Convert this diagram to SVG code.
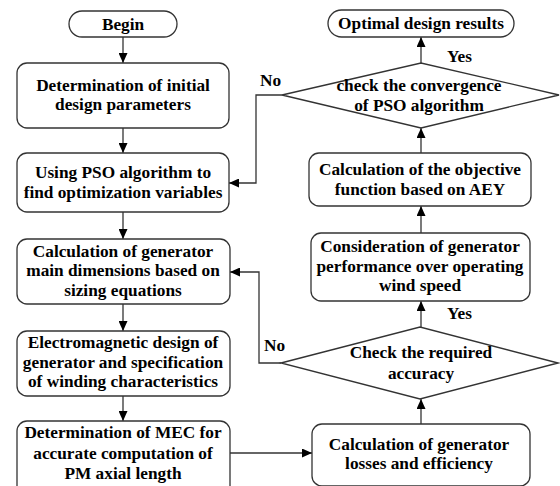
<svg xmlns="http://www.w3.org/2000/svg" width="560" height="486" viewBox="0 0 560 486">
<defs>
<marker id="ah" viewBox="0 0 10 10" refX="10" refY="5" markerWidth="10" markerHeight="9" markerUnits="userSpaceOnUse" orient="auto" preserveAspectRatio="none">
<path d="M0,0 L10,5 L0,10 Z" fill="#000"/>
</marker>
<style>
.box{fill:#fff;stroke:#333;stroke-width:1.3}
.t{font-family:"Liberation Serif","Times New Roman",serif;font-weight:bold;font-size:17.3px;fill:#000;text-anchor:middle}
.l{font-family:"Liberation Serif","Times New Roman",serif;font-weight:bold;font-size:17.3px;fill:#000}
.c{fill:none;stroke:#333;stroke-width:1.3;marker-end:url(#ah)}
</style>
</defs>
<rect width="560" height="486" fill="#fff"/>
<g id="connectors">
<path class="c" d="M123,37 V63"/>
<path class="c" d="M123,128 V153"/>
<path class="c" d="M123,212 V239"/>
<path class="c" d="M123,304 V331"/>
<path class="c" d="M123,396 V421"/>
<path class="c" d="M230,453 H312"/>
<path class="c" d="M421,424 V399"/>
<path class="c" d="M421,327 V301"/>
<path class="c" d="M421,233 V206"/>
<path class="c" d="M421,153 V128"/>
<path class="c" d="M421,63 V37"/>
<path class="c" d="M282,95 H256 V183 H229"/>
<path class="c" d="M281,363 H259 V272 H230"/>
<text class="l" x="260" y="86">No</text>
<text class="l" x="264" y="351">No</text>
<text class="l" x="447" y="62">Yes</text>
<text class="l" x="447" y="319">Yes</text>
</g>
<g id="begin">
<rect class="box" x="69" y="11" width="108" height="26" rx="13"/>
<text class="t" x="123" y="30">Begin</text>
</g>
<g id="init">
<rect class="box" x="17" y="63" width="212" height="65" rx="10"/>
<text class="t" x="123" y="91">Determination of initial</text>
<text class="t" x="123" y="110">design parameters</text>
</g>
<g id="pso">
<rect class="box" x="17" y="153" width="212" height="59" rx="10"/>
<text class="t" x="123" y="178">Using PSO algorithm to</text>
<text class="t" x="123" y="198">find optimization variables</text>
</g>
<g id="sizing">
<rect class="box" x="17" y="239" width="213" height="65" rx="10"/>
<text class="t" x="123" y="257">Calculation of generator</text>
<text class="t" x="123" y="276">main dimensions based on</text>
<text class="t" x="123" y="296">sizing equations</text>
</g>
<g id="em">
<rect class="box" x="17" y="331" width="213" height="65" rx="10"/>
<text class="t" x="123" y="348">Electromagnetic design of</text>
<text class="t" x="123" y="368">generator and specification</text>
<text class="t" x="123" y="387">of winding characteristics</text>
</g>
<g id="mec">
<rect class="box" x="17" y="421" width="213" height="75" rx="10"/>
<text class="t" x="123" y="438">Determination of MEC  for</text>
<text class="t" x="123" y="459">accurate computation of</text>
<text class="t" x="123" y="479">PM axial length</text>
</g>
<g id="losses">
<rect class="box" x="312" y="424" width="218" height="62" rx="10"/>
<text class="t" x="419" y="450">Calculation of generator</text>
<text class="t" x="419" y="469">losses and efficiency</text>
</g>
<g id="accuracy">
<polygon class="box" points="281,363 420,327 558,363 420,399"/>
<text class="t" x="421" y="358">Check the required</text>
<text class="t" x="421" y="379">accuracy</text>
</g>
<g id="perf">
<rect class="box" x="311" y="233" width="219" height="68" rx="10"/>
<text class="t" x="420" y="252">Consideration of generator</text>
<text class="t" x="420" y="272">performance over operating</text>
<text class="t" x="420" y="291">wind speed</text>
</g>
<g id="objective">
<rect class="box" x="309" y="153" width="222" height="53" rx="10"/>
<text class="t" x="420" y="175">Calculation of the objective</text>
<text class="t" x="420" y="195">function based on AEY</text>
</g>
<g id="convergence">
<polygon class="box" points="282,95 421,63 559,95 421,128"/>
<text class="t" x="419" y="91">check the convergence</text>
<text class="t" x="419" y="111">of PSO algorithm</text>
</g>
<g id="optimal">
<rect class="box" x="328" y="10" width="186" height="27" rx="13.5"/>
<text class="t" x="421" y="29">Optimal design results</text>
</g>
</svg>
